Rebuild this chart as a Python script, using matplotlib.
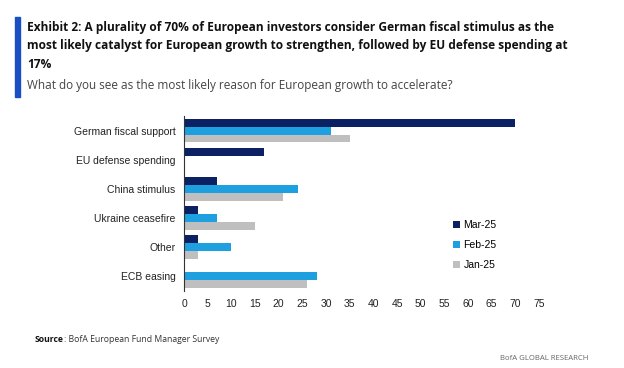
import matplotlib
matplotlib.use("Agg")
import matplotlib.pyplot as plt
import numpy as np
from matplotlib.patches import Rectangle

categories = ["German fiscal support", "EU defense spending", "China stimulus",
              "Ukraine ceasefire", "Other", "ECB easing"]
series_names = ["Mar-25", "Feb-25", "Jan-25"]
mar25 = [70, 17, 7, 3, 3, 0]
feb25 = [31, 0, 24, 7, 10, 28]
jan25 = [35, 0, 21, 15, 3, 26]
xticks = list(range(0, 80, 5))

colors = ["#0b2163", "#1e9fe0", "#bfbfbf"]

title_font = "Open Sans"
body_font = "Liberation Sans"

W, H = 624, 368
fig = plt.figure(figsize=(W / 100, H / 100), dpi=100)

ax_left, ax_right = 184 / W, 539 / W
ax_top, ax_bot = 1 - 116 / H, 1 - 291 / H
ax = fig.add_axes([ax_left, ax_bot, ax_right - ax_left, ax_top - ax_bot])

n = len(categories)
y = np.arange(n)
bh = 0.27
for i, (vals, c, name) in enumerate(zip([mar25, feb25, jan25], colors, series_names)):
    ax.barh(y - bh + i * bh, vals, height=bh, color=c, label=name)

ax.set_ylim(n - 0.5, -0.5)
ax.set_xlim(0, 75)
ax.set_xticks(xticks)
ax.set_xticklabels([str(t) for t in xticks], fontsize=7.5, family=body_font, color="#222222")
ax.set_yticks(y)
ax.set_yticklabels(categories, fontsize=7.5, family=body_font, color="#222222")
ax.tick_params(axis="both", length=0)
ax.tick_params(axis="x", pad=6)
ax.tick_params(axis="y", pad=6)
for s in ["top", "right", "bottom"]:
    ax.spines[s].set_visible(False)
ax.spines["left"].set_color("#333333")
ax.spines["left"].set_linewidth(0.8)

ax.legend(loc="upper left", bbox_to_anchor=((449 - 184) / (539 - 184), (291 - 216) / (291 - 116)),
          frameon=False, prop={"family": body_font, "size": 7.5},
          handlelength=0.7, handleheight=0.7, handletextpad=0.3, labelspacing=0.95,
          borderaxespad=0)

# Title block
fig.patches.append(Rectangle((15 / W, 1 - 97 / H), 5 / W, 80 / H, transform=fig.transFigure,
                             color="#1a4fc4", zorder=5))
title_lines = ["Exhibit 2: A plurality of 70% of European investors consider German fiscal stimulus as the",
               "most likely catalyst for European growth to strengthen, followed by EU defense spending at",
               "17%"]
for k, line in enumerate(title_lines):
    fig.text(27 / W, 1 - (27 + 19 * k) / H, line, fontsize=8.6, fontweight="bold", family=title_font,
             va="center", ha="left", color="#111111")
fig.text(27 / W, 1 - 85 / H, "What do you see as the most likely reason for European growth to accelerate?",
         fontsize=8.5, family=title_font, va="center", ha="left", color="#444444")

renderer = fig.canvas.get_renderer()
src = fig.text(35 / W, 1 - 340 / H, "Source", fontsize=6.2, fontweight="bold", family=title_font,
               va="center", ha="left", color="#111111")
bb = src.get_window_extent(renderer)
fig.text(bb.x1 / W, 1 - 340 / H, ": BofA European Fund Manager Survey", fontsize=6.2, family=title_font,
         va="center", ha="left", color="#333333")
fig.text(588 / W, 1 - 358 / H, "BofA GLOBAL RESEARCH", fontsize=5.6, family=title_font,
         va="center", ha="right", color="#666666")

fig.savefig("out.png", dpi=100)
